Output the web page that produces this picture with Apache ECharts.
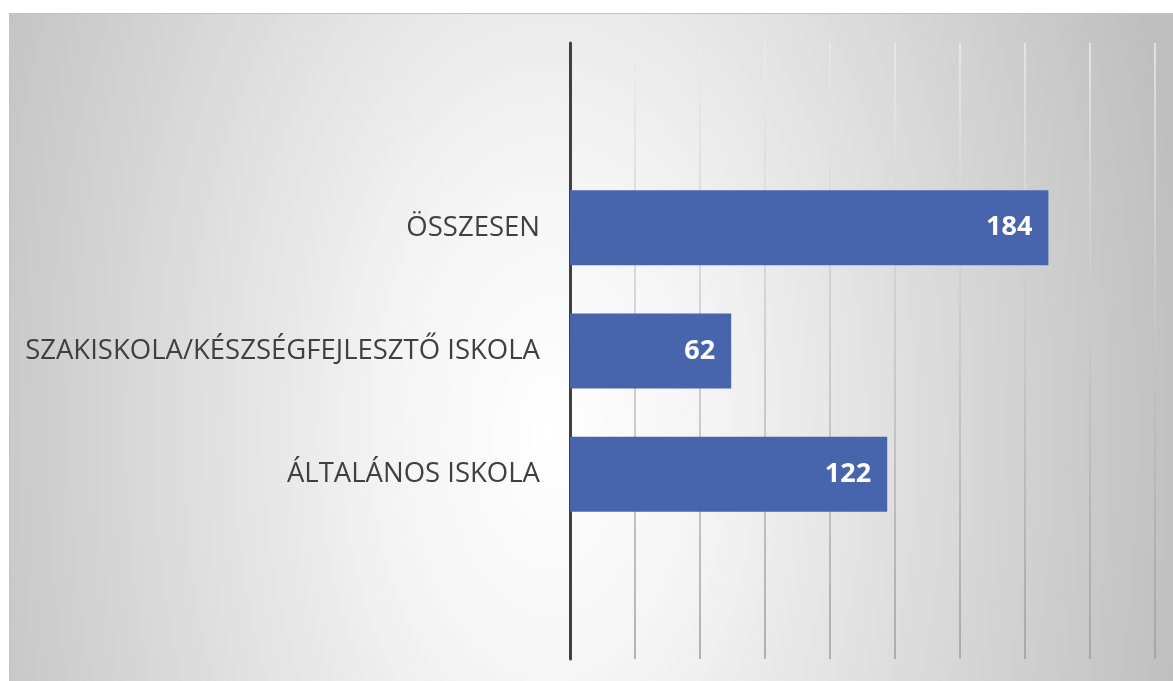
<!DOCTYPE html>
<html>
<head>
<meta charset="utf-8">
<script src="https://cdn.jsdelivr.net/npm/echarts@6/dist/echarts.min.js"></script>
<style>
  html, body { margin: 0; padding: 0; width: 1173px; height: 681px; overflow: hidden; background: #fff; }
  /* háttér: radiális szürke átmenet, mint az Excel diagramon */
  #bg {
    position: absolute; left: 9px; top: 13px; width: 1164px; height: 668px;
    border-top: 1px solid #c4c4c4; border-left: 1px solid #c4c4c4; box-sizing: border-box;
    background: radial-gradient(ellipse 640px 1100px at 540px 420px, #ffffff 0%, #f4f4f4 25%, #bfbfbf 100%);
  }
  #chart { position: absolute; left: 0; top: 0; width: 1173px; height: 681px; }
</style>
</head>
<body>
<div id="bg"></div>
<div id="chart"></div>
<script>
// kategóriák (felülről lefelé)
const categories = ['ÖSSZESEN', 'SZAKISKOLA/KÉSZSÉGFEJLESZTŐ ISKOLA', 'ÁLTALÁNOS ISKOLA'];
// tanulók száma
const values = [184, 62, 122];

const chart = echarts.init(document.getElementById('chart'));

// üres sáv fent és lent, ahogy az eredetin
const axisData = [''].concat(categories, [' ']);
const seriesData = [null].concat(values, [null]);

const option = {
    backgroundColor: 'transparent',
    animation: false,
    grid: {
        left: 570,
        top: 43,
        width: 650,
        height: 616,
        outerBoundsMode: 'none'
    },
    xAxis: {
        type: 'value',
        min: 0,
        max: 250,
        interval: 25,
        axisLine: { show: false },
        axisTick: { show: false },
        axisLabel: { show: false },
        splitLine: {
            show: true,
            lineStyle: {
                width: 1.5,
                color: {
                    type: 'linear',
                    x: 0, y: 43, x2: 0, y2: 659,
                    global: true,
                    colorStops: [
                        { offset: 0, color: '#ececec' },
                        { offset: 1, color: '#9c9c9c' }
                    ]
                }
            }
        }
    },
    yAxis: {
        type: 'category',
        inverse: true,
        data: axisData,
        axisLine: {
            show: true,
            lineStyle: { color: '#404040', width: 3 }
        },
        axisTick: { show: false },
        axisLabel: {
            margin: 30,
            color: '#404040',
            fontSize: 27.5,
            fontFamily: '"Open Sans", sans-serif'
        }
    },
    series: [
        {
            type: 'bar',
            data: seriesData,
            barWidth: 75,
            itemStyle: { color: '#4864ad' },
            label: {
                show: true,
                position: 'insideRight',
                distance: 16,
                color: '#ffffff',
                fontWeight: 'bold',
                fontSize: 27,
                fontFamily: '"Noto Sans", sans-serif'
            }
        }
    ]
};

chart.setOption(option);
</script>
</body>
</html>
